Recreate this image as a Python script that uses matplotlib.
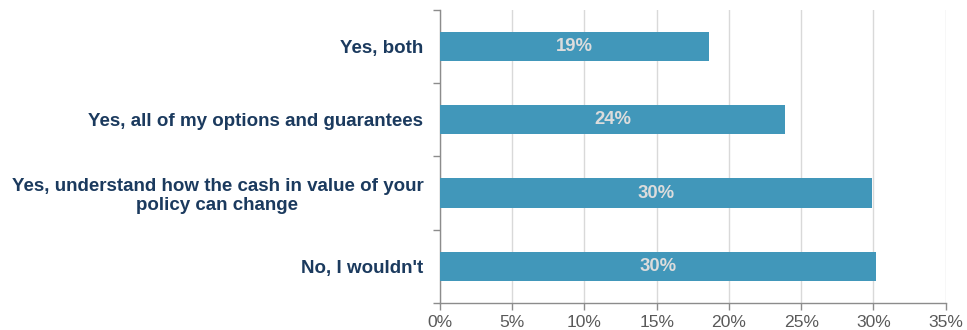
import matplotlib
matplotlib.use("Agg")
import matplotlib.pyplot as plt
from matplotlib.ticker import FixedLocator, FuncFormatter

# survey answers, top to bottom
categories = [
    "Yes, both",
    "Yes, all of my options and guarantees",
    "Yes, understand how the cash in value of your\npolicy can change",
    "No, I wouldn't",
]
shares = [18.6, 23.9, 29.9, 30.2]   # percent of respondents
x_ticks = [0, 5, 10, 15, 20, 25, 30, 35]

BAR_COLOR = "#4197BA"
NAVY = "#1B3A5E"
GRID = "#D9D9D9"
AXIS = "#8C8C8C"

plt.rcParams["font.family"] = ["Liberation Sans", "DejaVu Sans"]

fig = plt.figure(figsize=(9.67, 3.30), dpi=100)
ax = fig.add_axes([0.455, 0.082, 0.523, 0.888])

ypos = list(range(len(categories)))
ax.barh(ypos, shares, height=0.4, color=BAR_COLOR, zorder=3)

for y, v in zip(ypos, shares):
    ax.text(v / 2, y, f"{v:.0f}%", ha="center", va="center",
            fontsize=13.3, fontweight="bold", color="#DCDCDC", zorder=4)

ax.set_xlim(0, 35)
ax.set_ylim(len(categories) - 0.5, -0.5)
ax.xaxis.set_major_locator(FixedLocator(x_ticks))
ax.xaxis.set_major_formatter(FuncFormatter(lambda v, _: f"{v:.0f}%"))
ax.grid(axis="x", color=GRID, linewidth=1, zorder=0)

# category labels without tick marks, ticks drawn at slot boundaries
ax.set_yticks(ypos)
ax.set_yticklabels(categories, fontsize=13.5, fontweight="bold",
                   color=NAVY, multialignment="center", linespacing=1.15)
ax.tick_params(axis="y", which="major", length=0, pad=12)
ax.set_yticks([y - 0.5 for y in ypos] + [len(categories) - 0.5], minor=True)
ax.tick_params(axis="y", which="minor", length=5, color=AXIS, width=1)
ax.tick_params(axis="x", length=5, color=AXIS, width=1,
               labelsize=12.6, labelcolor="#595959", pad=4)

for side in ("top", "right"):
    ax.spines[side].set_visible(False)
for side in ("left", "bottom"):
    ax.spines[side].set_color(AXIS)
    ax.spines[side].set_linewidth(1)

fig.savefig("out.png", dpi=100)
